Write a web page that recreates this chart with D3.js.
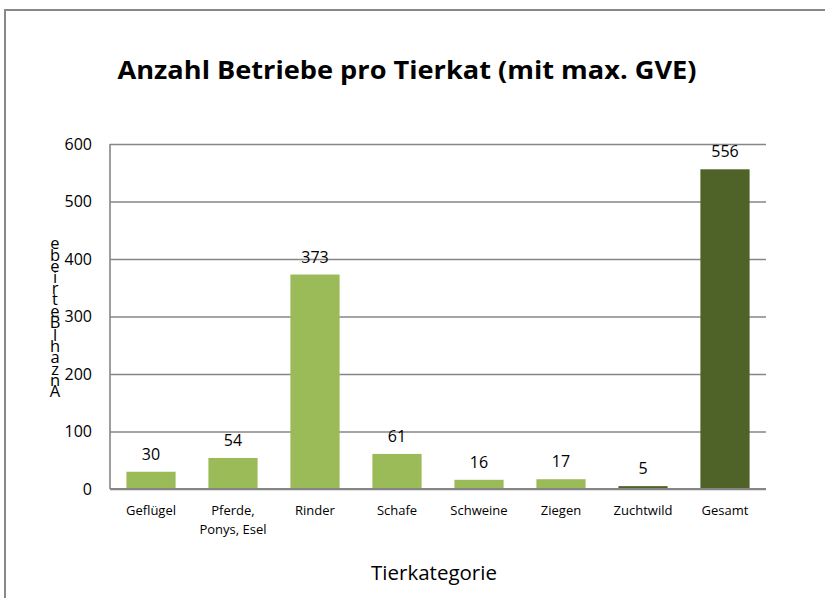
<!DOCTYPE html>
<html lang="de">
<head>
<meta charset="UTF-8">
<title>Anzahl Betriebe pro Tierkat</title>
<script src="https://d3js.org/d3.v7.min.js"></script>
<style>
  body { margin: 0; background: #fff; }
  svg { display: block; font-family: "Open Sans", "Noto Sans", sans-serif; }
</style>
</head>
<body>
<svg id="chart" width="825" height="598"></svg>
<script>
// data
const categories = ["Geflügel", "Pferde, Ponys, Esel", "Rinder", "Schafe", "Schweine", "Ziegen", "Zuchtwild", "Gesamt"]
const catLabels = [["Geflügel"], ["Pferde,", "Ponys, Esel"], ["Rinder"], ["Schafe"], ["Schweine"], ["Ziegen"], ["Zuchtwild"], ["Gesamt"]]
const betriebe = [30, 54, 373, 61, 16, 17, 5, 556]
const yTicks = [0, 100, 200, 300, 400, 500, 600]
const darkCats = ["Zuchtwild", "Gesamt"]

const svg = d3.select("#chart")
const plotL = 110, plotR = 766, plotT = 144, plotB = 489

// outer frame (only top + left visible in the crop)
svg.append("path")
  .attr("d", "M5,598 V10 H825")
  .attr("fill", "none").attr("stroke", "#888").attr("stroke-width", 2)

svg.append("text")
  .attr("x", 407).attr("y", 79)
  .attr("text-anchor", "middle")
  .attr("font-size", 25).attr("font-weight", "bold")
  .attr("textLength", 579).attr("lengthAdjust", "spacingAndGlyphs")
  .text("Anzahl Betriebe pro Tierkat (mit max. GVE)")

let x = d3.scaleBand().domain(categories).range([plotL, plotR]).paddingInner(0.4).paddingOuter(0.2)
let y = d3.scaleLinear().domain([0, 600]).range([plotB, plotT])

// gridlines + y ticks
let yAxis = d3.axisLeft(y).tickValues(yTicks).tickSize(-(plotR - plotL)).tickPadding(18)
let yG = svg.append("g").attr("transform", `translate(${plotL},0)`).call(yAxis)
yG.select(".domain").remove()
yG.selectAll(".tick line").attr("stroke", "#868686").attr("stroke-width", 1.6)
yG.selectAll(".tick text").attr("font-size", 16).attr("font-family", "Open Sans").attr("fill", "#000")

// left axis line
svg.append("line")
  .attr("x1", plotL).attr("x2", plotL).attr("y1", plotT).attr("y2", plotB)
  .attr("stroke", "#868686").attr("stroke-width", 1.6)

svg.selectAll("rect.bar")
  .data(betriebe).enter()
  .append("rect").attr("class", "bar")
  .attr("x", (d, i) => x(categories[i]))
  .attr("width", x.bandwidth())
  .attr("y", d => y(d))
  .attr("height", d => y(0) - y(d))
  .attr("fill", (d, i) => darkCats.includes(categories[i]) ? "#4F6228" : "#9BBB59")

// baseline on top of bars
svg.append("line")
  .attr("x1", plotL).attr("x2", plotR).attr("y1", plotB).attr("y2", plotB)
  .attr("stroke", "#868686").attr("stroke-width", 2)

svg.selectAll("text.val")
  .data(betriebe).enter()
  .append("text").attr("class", "val")
  .attr("x", (d, i) => x(categories[i]) + x.bandwidth() / 2)
  .attr("y", d => y(d) - 12)
  .attr("text-anchor", "middle").attr("font-size", 16)
  .text(d => d)

// category labels
let xl = svg.selectAll("text.cat")
  .data(catLabels).enter()
  .append("text").attr("class", "cat")
  .attr("text-anchor", "middle").attr("font-size", 13)
xl.selectAll("tspan")
  .data((d, i) => d.map(s => ({ s, i })))
  .enter().append("tspan")
  .attr("x", d => x(categories[d.i]) + x.bandwidth() / 2)
  .attr("y", (d, j) => 515 + j * 19)
  .text(d => d.s)

svg.append("text")
  .attr("x", 434).attr("y", 580)
  .attr("text-anchor", "middle").attr("font-size", 20.5)
  .text("Tierkategorie")

// y title: stacked upright letters, bottom to top
let yTitle = "Anzahl Betriebe"
let chars = yTitle.split("").filter(c => c !== " ")
svg.selectAll("text.ych")
  .data(chars).enter()
  .append("text").attr("class", "ych")
  .attr("x", 55)
  .attr("y", (d, i) => 397 - i * 11.2 - (i >= 6 ? 2 : 0))
  .attr("text-anchor", "middle").attr("font-size", 16.5)
  .text(d => d)
</script>
</body>
</html>
